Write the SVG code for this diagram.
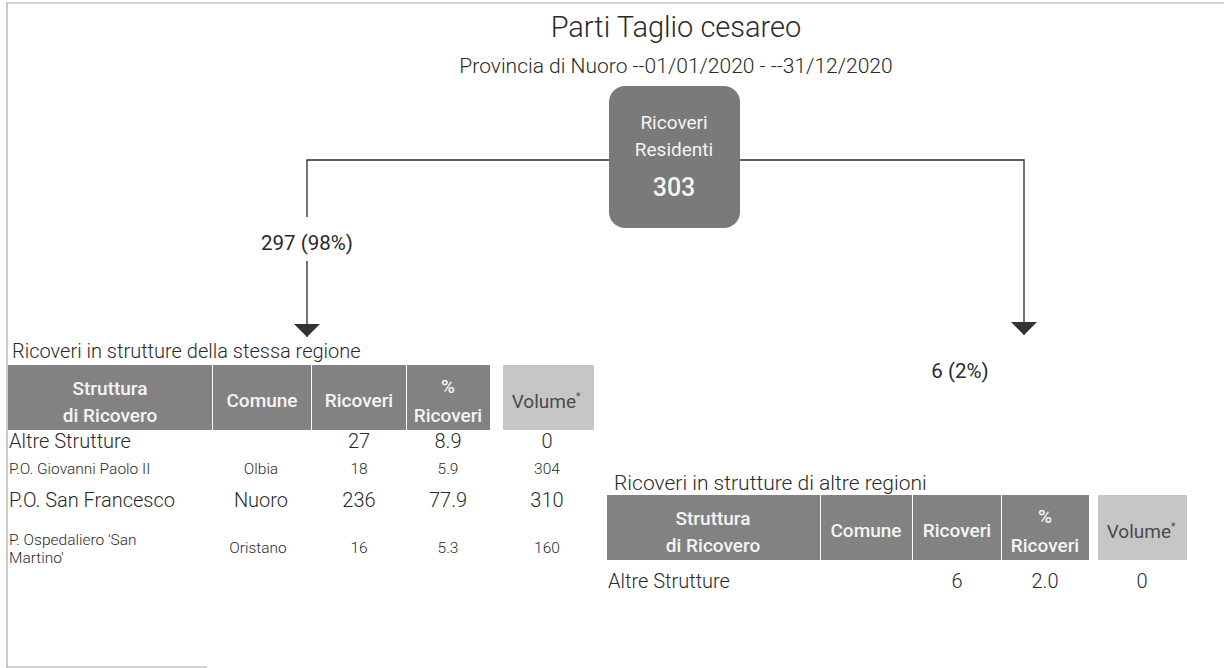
<svg xmlns="http://www.w3.org/2000/svg" width="1224" height="668" viewBox="0 0 1224 668">
<style>
.t{font-family:Roboto,"Liberation Sans",sans-serif;fill:#2a2a2a;font-weight:300}
.h{font-family:Roboto,"Liberation Sans",sans-serif;fill:#f4f4f4;font-weight:500;font-size:19px;text-anchor:middle}
.hv{fill:#4a4a4a;font-weight:400}
.cell{fill:#828282}
.vcell{fill:#c6c6c6}
.big{font-size:20px}
.sm{font-size:15.5px}
.c{text-anchor:middle}
.ln{stroke:#2a2a2a;stroke-width:1.3;fill:none}
.frame{stroke:#a8a8a8;stroke-width:1.2;fill:none}
.lbl{font-family:Roboto,"Liberation Sans",sans-serif;fill:#2a2a2a;font-weight:400;font-size:20.5px;text-anchor:middle}
</style>
<defs>
<marker id="arr" viewBox="0 0 13 26" refX="13" refY="13" markerWidth="13" markerHeight="26" markerUnits="userSpaceOnUse" orient="auto">
<path d="M0,0 L13,13 L0,26 Z" fill="#333"/>
</marker>
</defs>
<rect width="1224" height="668" fill="#ffffff"/>
<g id="frame">
<path class="frame" d="M6,3 H1224 M7,3 V668 M7,667 H207"/>
</g>
<g id="title">
<text class="t c" x="676" y="37" font-size="29">Parti Taglio cesareo</text>
<text class="t c" x="676" y="73" font-size="21">Provincia di Nuoro --01/01/2020 - --31/12/2020</text>
</g>
<g id="connectors">
<path class="ln" d="M609,160 H307 V217"/>
<path class="ln" d="M307,261 V337" marker-end="url(#arr)"/>
<path class="ln" d="M740,160 H1024 V335" marker-end="url(#arr)"/>
<text class="lbl" x="307" y="250">297 (98%)</text>
<text class="lbl" x="960" y="378">6 (2%)</text>
</g>
<g id="node-ricoveri-residenti">
<rect x="609" y="86" width="131" height="142" rx="16" fill="#7a7a7a"/>
<text class="h" x="674" y="129" style="font-weight:400;font-size:19px">Ricoveri</text>
<text class="h" x="674" y="156" style="font-weight:400;font-size:19px">Residenti</text>
<text class="h" x="674" y="196" style="font-size:25px">303</text>
</g>
<g id="table-stessa-regione">
<text class="t" x="12" y="358" font-size="20">Ricoveri in strutture della stessa regione</text>
<rect class="cell" x="8" y="365" width="204" height="65"/>
<rect class="cell" x="213" y="365" width="98" height="65"/>
<rect class="cell" x="312" y="365" width="94" height="65"/>
<rect class="cell" x="407" y="365" width="83" height="65"/>
<rect class="vcell" x="503" y="365" width="91" height="65"/>
<text class="h" x="110" y="395">Struttura</text>
<text class="h" x="110" y="422">di Ricovero</text>
<text class="h" x="262" y="407">Comune</text>
<text class="h" x="359" y="407">Ricoveri</text>
<text class="h" x="448" y="393">%</text>
<text class="h" x="448" y="422">Ricoveri</text>
<text class="h hv" x="546" y="408">Volume<tspan font-size="10" dy="-8">*</tspan></text>
<text class="t big" x="9" y="448">Altre Strutture</text>
<text class="t big c" x="359" y="448">27</text>
<text class="t big c" x="448" y="448">8.9</text>
<text class="t big c" x="547" y="448">0</text>
<text class="t sm" x="9" y="474">P.O. Giovanni Paolo II</text>
<text class="t sm c" x="261" y="474">Olbia</text>
<text class="t sm c" x="359" y="474">18</text>
<text class="t sm c" x="448" y="474">5.9</text>
<text class="t sm c" x="547" y="474">304</text>
<text class="t big" x="9" y="507">P.O. San Francesco</text>
<text class="t big c" x="261" y="507">Nuoro</text>
<text class="t big c" x="359" y="507">236</text>
<text class="t big c" x="448" y="507">77.9</text>
<text class="t big c" x="547" y="507">310</text>
<text class="t sm" x="9" y="545">P. Ospedaliero 'San</text>
<text class="t sm" x="9" y="563">Martino'</text>
<text class="t sm c" x="258" y="553">Oristano</text>
<text class="t sm c" x="359" y="553">16</text>
<text class="t sm c" x="448" y="553">5.3</text>
<text class="t sm c" x="547" y="553">160</text>
</g>
<g id="table-altre-regioni">
<text class="t" x="614" y="490" font-size="21">Ricoveri in strutture di altre regioni</text>
<rect class="cell" x="607" y="495" width="213" height="65"/>
<rect class="cell" x="821" y="495" width="91" height="65"/>
<rect class="cell" x="913" y="495" width="88" height="65"/>
<rect class="cell" x="1002" y="495" width="87" height="65"/>
<rect class="vcell" x="1098" y="495" width="89" height="65"/>
<text class="h" x="713" y="525">Struttura</text>
<text class="h" x="713" y="552">di Ricovero</text>
<text class="h" x="866" y="537">Comune</text>
<text class="h" x="957" y="537">Ricoveri</text>
<text class="h" x="1045" y="523">%</text>
<text class="h" x="1045" y="552">Ricoveri</text>
<text class="h hv" x="1141" y="538">Volume<tspan font-size="10" dy="-8">*</tspan></text>
<text class="t big" x="608" y="588">Altre Strutture</text>
<text class="t big c" x="957" y="588">6</text>
<text class="t big c" x="1045" y="588">2.0</text>
<text class="t big c" x="1142" y="588">0</text>
</g>
</svg>
